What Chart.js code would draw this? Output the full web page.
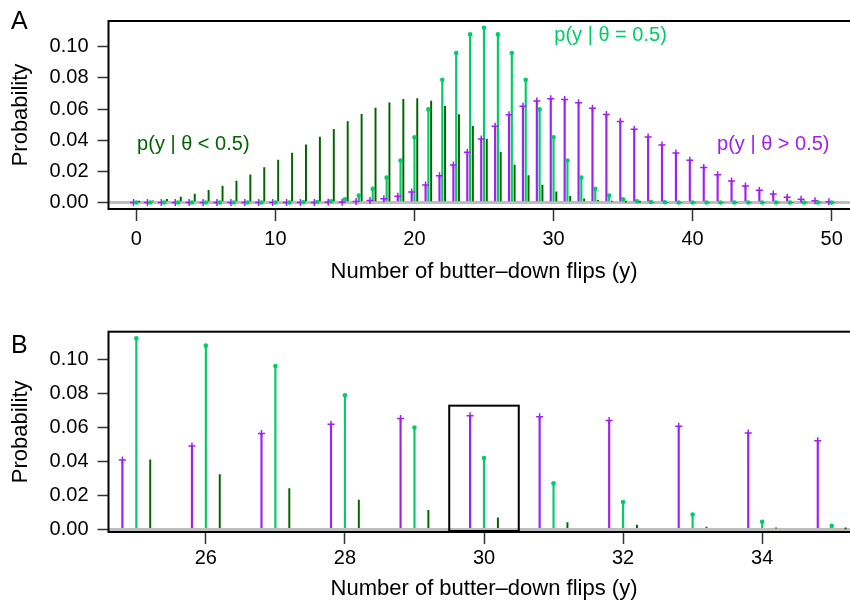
<!DOCTYPE html>
<html>
<head>
<meta charset="utf-8">
<script src="https://cdn.jsdelivr.net/npm/chart.js@4.4.1/dist/chart.umd.min.js"></script>
<style>
    html, body { margin: 0; padding: 0; background: #fff; overflow: hidden; width: 850px; height: 605px; }
    .panel { position: absolute; left: 0; width: 870px; }
    #wrapA { top: 0; height: 300px; }
    #wrapB { top: 300px; height: 305px; }
</style>
</head>
<body>
<div class="panel" id="wrapA"><canvas id="chartA" width="870" height="300"></canvas></div>
<div class="panel" id="wrapB"><canvas id="chartB" width="870" height="305"></canvas></div>
<script>
// number of butter-down flips (y)
const flips = [0, 1, 2, 3, 4, 5, 6, 7, 8, 9, 10, 11, 12, 13, 14, 15, 16, 17, 18, 19, 20,
    21, 22, 23, 24, 25, 26, 27, 28, 29, 30, 31, 32, 33, 34, 35, 36, 37, 38, 39, 40,
    41, 42, 43, 44, 45, 46, 47, 48, 49, 50];

// p(y | theta = 0.5)
const probEqual = [0, 0, 0, 0, 0, 0, 0, 0, 0, 0, 0, 0, 0.0001, 0.0003, 0.0008, 0.0020,
    0.0044, 0.0087, 0.0160, 0.0270, 0.0419, 0.0598, 0.0788, 0.0960, 0.1080, 0.1123,
    0.1080, 0.0960, 0.0788, 0.0598, 0.0419, 0.0270, 0.0160, 0.0087, 0.0044, 0.0020,
    0.0008, 0.0003, 0.0001, 0, 0, 0, 0, 0, 0, 0, 0, 0, 0, 0, 0];

// p(y | theta > 0.5)
const probAbove = [0, 0, 0, 0, 0, 0, 0, 0, 0, 0, 0, 0, 0, 0, 0.0001, 0.0002,
    0.0006, 0.0013, 0.0024, 0.0040, 0.0068, 0.0112, 0.0172, 0.0240, 0.0322, 0.0408,
    0.0490, 0.0564, 0.0618, 0.0652, 0.0667, 0.0662, 0.0640, 0.0606, 0.0566, 0.0520,
    0.0470, 0.0420, 0.0370, 0.0318, 0.0272, 0.0224, 0.0178, 0.0138, 0.0106, 0.0078,
    0.0054, 0.0034, 0.0020, 0.0011, 0.0004];

// p(y | theta < 0.5)
const probBelow = [0.0004, 0.0011, 0.0020, 0.0034, 0.0054, 0.0078, 0.0106, 0.0138,
    0.0178, 0.0224, 0.0272, 0.0318, 0.0370, 0.0420, 0.0470, 0.0520, 0.0566, 0.0606,
    0.0640, 0.0662, 0.0667, 0.0652, 0.0618, 0.0564, 0.0490, 0.0408, 0.0322, 0.0240,
    0.0172, 0.0112, 0.0068, 0.0040, 0.0024, 0.0013, 0.0006, 0.0002, 0.0001, 0, 0, 0,
    0, 0, 0, 0, 0, 0, 0, 0, 0, 0, 0];

const xTicksA = [0, 10, 20, 30, 40, 50];
const xTicksB = [26, 28, 30, 32, 34];
const yTicks = [0, 0.02, 0.04, 0.06, 0.08, 0.10];

const COL_EQUAL = '#00CD66';
const COL_ABOVE = '#A020F0';
const COL_BELOW = '#006400';
const SHIFT = 0.2;
const FONT = '"Liberation Sans", Arial, Helvetica, sans-serif';

Chart.defaults.font.family = FONT;

function stems(vals, shift) {
    return flips.map((f, i) => ({ x: f + shift, y: vals[i] }));
}

function makeDatasets() {
    return [
        { type: 'bar', data: stems(probAbove, -SHIFT), backgroundColor: COL_ABOVE, barThickness: 1.5, grouped: false, order: 5 },
        { type: 'bar', data: stems(probEqual, 0), backgroundColor: COL_EQUAL, barThickness: 1.5, grouped: false, order: 4 },
        { type: 'bar', data: stems(probBelow, SHIFT), backgroundColor: COL_BELOW, barThickness: 1.3, grouped: false, order: 3 },
        { type: 'scatter', data: stems(probAbove, -SHIFT), pointStyle: 'cross', pointRadius: 3.5,
          borderColor: COL_ABOVE, borderWidth: 1.5, order: 2 },
        { type: 'scatter', data: stems(probEqual, 0), pointStyle: 'circle', pointRadius: 2.3,
          backgroundColor: COL_EQUAL, borderWidth: 0, order: 1 }
    ];
}

// frame, panel letter, annotations drawn on top
const extrasPlugin = {
    id: 'extras',
    afterDraw(chart, args, opts) {
        const { ctx, chartArea: a, scales } = chart;
        ctx.save();
        ctx.strokeStyle = '#000';
        ctx.lineWidth = 2;
        ctx.strokeRect(a.left, a.top, a.right - a.left, a.bottom - a.top);

        ctx.fillStyle = '#000';
        ctx.font = '25px ' + FONT;
        ctx.textAlign = 'left';
        ctx.textBaseline = 'alphabetic';
        ctx.fillText(opts.letter, 11, opts.letterY);

        (opts.notes || []).forEach(n => {
            ctx.fillStyle = n.color;
            ctx.font = '20px ' + FONT;
            ctx.textAlign = 'center';
            ctx.textBaseline = 'middle';
            ctx.fillText(n.text, scales.x.getPixelForValue(n.x), scales.y.getPixelForValue(n.y));
        });

        if (opts.box) {
            const b = opts.box;
            const x0 = scales.x.getPixelForValue(b[0]);
            const x1 = scales.x.getPixelForValue(b[1]);
            const y0 = scales.y.getPixelForValue(b[2]);
            const y1 = scales.y.getPixelForValue(b[3]);
            ctx.strokeStyle = '#000';
            ctx.lineWidth = 2;
            ctx.strokeRect(x0, y1, x1 - x0, y0 - y1);
        }
        ctx.restore();
    }
};

function makeOptions(cfg) {
    return {
        responsive: false,
        animation: false,
        events: [],
        layout: { padding: { top: cfg.padTop, left: 0, right: 10.5, bottom: 0 } },
        plugins: {
            legend: { display: false },
            tooltip: { enabled: false },
            extras: cfg.extras
        },
        scales: {
            x: {
                type: 'linear',
                min: cfg.xMin,
                max: cfg.xMax,
                offset: false,
                afterBuildTicks: s => { s.ticks = cfg.xTicks.map(v => ({ value: v })); },
                afterFit: s => { s.height = cfg.xHeight; },
                border: { display: false },
                grid: { display: true, offset: false, drawOnChartArea: false, drawTicks: true, tickLength: 12, tickColor: '#333', tickWidth: 1.5 },
                ticks: { color: '#000', font: { size: 20 }, padding: cfg.xTickPad, maxRotation: 0, autoSkip: false },
                title: {
                    display: true,
                    text: 'Number of butter\u2013down flips (y)',
                    color: '#000',
                    font: { size: 22 },
                    padding: { top: 0, bottom: cfg.xTitlePad }
                }
            },
            y: {
                min: cfg.yMin,
                max: cfg.yMax,
                afterBuildTicks: s => { s.ticks = yTicks.map(v => ({ value: v })); },
                afterFit: s => { s.width = 108.5; },
                border: { display: false },
                grid: {
                    display: true,
                    drawTicks: true,
                    tickLength: 11,
                    tickColor: '#333',
                    tickWidth: 1.5,
                    color: ctx => (ctx.tick && Math.abs(ctx.tick.value) < 1e-9) ? '#BEBEBE' : 'rgba(0,0,0,0)',
                    lineWidth: ctx => (ctx.tick && Math.abs(ctx.tick.value) < 1e-9) ? 3 : 1
                },
                ticks: { color: '#000', font: { size: 20 }, padding: 9, callback: v => v.toFixed(2) },
                title: { display: true, text: 'Probability', color: '#000', font: { size: 22 }, padding: { top: 8 } }
            }
        }
    };
}

new Chart(document.getElementById('chartA'), {
    type: 'bar',
    data: { datasets: makeDatasets() },
    options: makeOptions({
        padTop: 8, xMin: -2, xMax: 52, yMin: -0.0042, yMax: 0.1166,
        xTicks: xTicksA, xHeight: 91, xTickPad: 6, xTitlePad: 15,
        extras: {
            letter: 'A', letterY: 29,
            notes: [
                { text: 'p(y | \u03B8 < 0.5)', x: 4.1, y: 0.037, color: COL_BELOW },
                { text: 'p(y | \u03B8 = 0.5)', x: 34.1, y: 0.107, color: COL_EQUAL },
                { text: 'p(y | \u03B8 > 0.5)', x: 45.8, y: 0.037, color: COL_ABOVE }
            ]
        }
    }),
    plugins: [extrasPlugin]
});

new Chart(document.getElementById('chartB'), {
    type: 'bar',
    data: { datasets: makeDatasets() },
    options: makeOptions({
        padTop: 31.7, xMin: 24.6, xMax: 35.4, yMin: -0.0016, yMax: 0.1162,
        xTicks: xTicksB, xHeight: 73, xTickPad: 2, xTitlePad: 3,
        extras: {
            letter: 'B', letterY: 53,
            box: [29.5, 30.5, -0.001, 0.0727]
        }
    }),
    plugins: [extrasPlugin]
});
</script>
</body>
</html>
